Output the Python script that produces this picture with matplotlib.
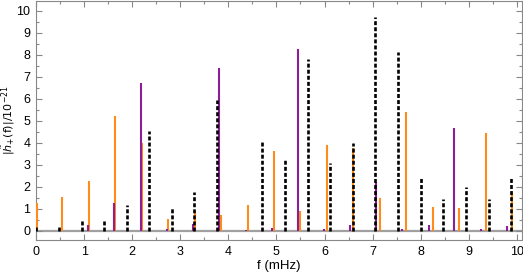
import matplotlib.pyplot as plt
from matplotlib.ticker import MultipleLocator

plt.rcParams['font.family'] = ['Liberation Sans', 'DejaVu Sans']
plt.rcParams['mathtext.fontset'] = 'dejavusans'

# black dashed lines
f_black = [0.0, 0.485, 0.95, 1.414, 1.89, 2.36, 2.83, 3.29, 3.77, 4.71,
           5.18, 5.65, 6.11, 6.59, 7.05, 7.53, 8.0, 8.47, 8.94, 9.41, 9.87]
h_black = [0.2, 0.26, 0.49, 0.49, 1.17, 4.53, 1.02, 1.77, 5.94, 4.08,
           3.21, 7.8, 3.1, 3.98, 9.71, 8.15, 2.43, 1.43, 2.0, 1.43, 2.38]

# orange lines
f_orange = [0.03, 0.55, 1.1, 1.65, 2.2, 2.75, 3.3, 3.85, 4.4, 4.95,
            5.5, 6.05, 6.6, 7.15, 7.7, 8.25, 8.8, 9.35, 9.9]
h_orange = [1.25, 1.55, 2.26, 5.2, 4.0, 0.53, 0.88, 0.71, 1.17, 3.62,
            0.9, 3.9, 3.75, 1.5, 5.39, 1.06, 1.02, 4.44, 1.8]

# purple lines
f_purple = [1.09, 1.63, 2.18, 2.73, 3.26, 3.81, 4.37, 4.90, 5.44, 5.99,
            6.53, 7.08, 7.62, 8.17, 8.70, 9.25, 9.80]
h_purple = [0.25, 1.25, 6.7, 0.08, 0.3, 7.4, 0.04, 0.12, 8.25, 0.06,
            0.26, 2.23, 0.08, 0.26, 4.67, 0.06, 0.23]

fig = plt.figure(figsize=(5.23, 2.79), dpi=100)
ax = fig.add_axes([0.0688, 0.1398, 0.9287, 0.8566])

ax.axhline(0, color='#a0a0a0', lw=1.6, zorder=1)
ax.vlines(f_orange, 0, h_orange, color='#ff8c1a', lw=1.5, zorder=3)
ax.vlines(f_purple, 0, h_purple, color='#8e1e96', lw=1.5, zorder=3)
ax.vlines(f_black, 0, h_black, color='black', lw=1.9, linestyles=(0, (1.5, 0.8)), zorder=4)

ax.set_xlim(0, 10.1)
ax.set_ylim(-0.42, 10.45)
ax.xaxis.set_major_locator(MultipleLocator(1))
ax.xaxis.set_minor_locator(MultipleLocator(0.5))
ax.yaxis.set_major_locator(MultipleLocator(1))
ax.yaxis.set_minor_locator(MultipleLocator(0.5))
ax.tick_params(which='both', direction='in', top=True, right=True,
               labelsize=9, color='#888888', width=0.8, pad=4)
ax.tick_params(which='major', length=4)
ax.tick_params(which='minor', length=2.5)
for s in ax.spines.values():
    s.set_color('#888888')
    s.set_linewidth(0.8)

ax.set_xlabel('f (mHz)', fontsize=9.5, labelpad=2)
ax.set_ylabel(r'$|\tilde{h}_{+}(\mathrm{f})|/10^{-21}$', fontsize=8)
ax.yaxis.set_label_coords(-0.04, 0.5)

fig.savefig('out.png', dpi=100)
